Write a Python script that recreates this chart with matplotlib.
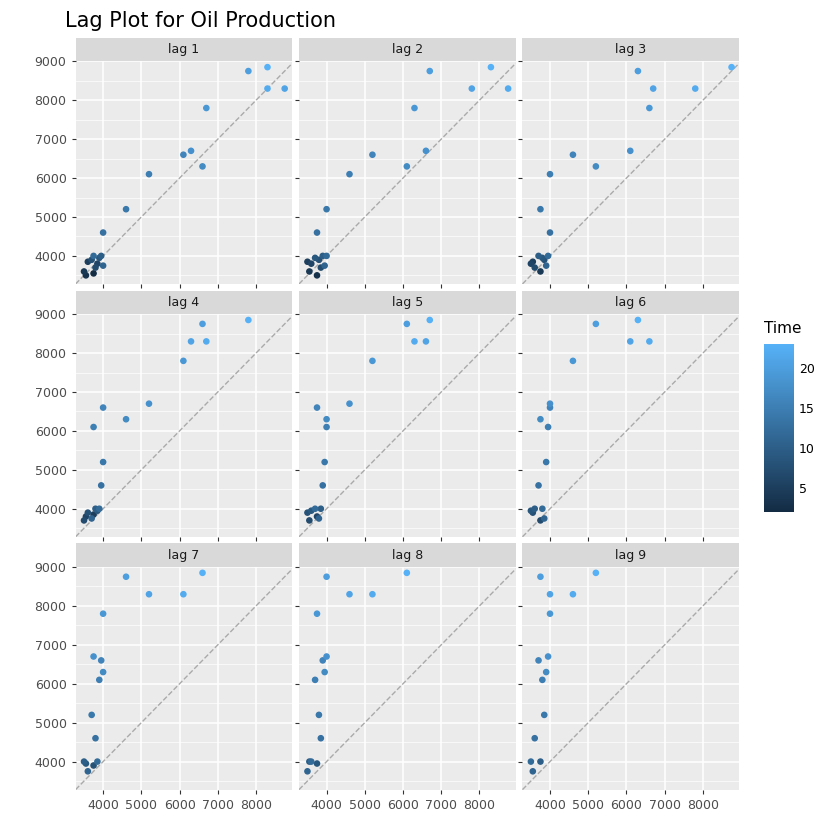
import numpy as np
import matplotlib
matplotlib.use("Agg")
import matplotlib.pyplot as plt
from matplotlib.colors import LinearSegmentedColormap, Normalize

# oil production series
oil = [3750, 3550, 3500, 3600, 3850, 3800, 3700, 3900, 3950, 4000, 3750, 4000,
       4600, 5200, 6100, 6600, 6300, 6700, 7800, 8750, 8300, 8300, 8850]
lags = list(range(1, 10))

cmap = LinearSegmentedColormap.from_list("gg", ["#132B43", "#56B1F7"])
norm = Normalize(vmin=2, vmax=len(oil))
lo, hi = 3280, 8950
yticks = [4000, 5000, 6000, 7000, 8000, 9000]
xticks = [4000, 5000, 6000, 7000, 8000]

fig = plt.figure(figsize=(8.4, 8.4), dpi=100)
fig.text(0.077, 0.968, "Lag Plot for Oil Production", fontsize=15)
left, right, top, bottom = 0.09, 0.88, 0.955, 0.06
gap = 0.008
strip = 0.028
pw = (right - left - 2 * gap) / 3
ph = (top - bottom - 2 * gap) / 3
y = np.array(oil)
for i, k in enumerate(lags):
    r, c = divmod(i, 3)
    x0 = left + c * (pw + gap)
    y0 = top - (r + 1) * ph - r * gap
    ax = fig.add_axes([x0, y0, pw, ph - strip])
    sax = fig.add_axes([x0, y0 + ph - strip, pw, strip])
    sax.set_facecolor("#D9D9D9")
    sax.set_xticks([]); sax.set_yticks([])
    for s in sax.spines.values():
        s.set_visible(False)
    sax.text(0.5, 0.5, f"lag {k}", ha="center", va="center", fontsize=9, color="#1A1A1A")
    ax.set_facecolor("#EBEBEB")
    ax.set_xlim(lo, hi); ax.set_ylim(lo, hi)
    ax.set_xticks(xticks); ax.set_yticks(yticks)
    ax.set_xticks(np.arange(3500, 9000, 500)[1::2], minor=True)
    ax.set_yticks(np.arange(3500, 9000, 1000), minor=True)
    ax.grid(True, which="major", color="white", lw=1.1)
    ax.grid(True, which="minor", color="white", lw=0.5)
    ax.set_axisbelow(True)
    for s in ax.spines.values():
        s.set_visible(False)
    ax.tick_params(which="both", length=3, color="#333333", labelsize=9, labelcolor="#4D4D4D")
    ax.tick_params(which="minor", length=0)
    if c != 0:
        ax.set_yticklabels([])
    if r != 2:
        ax.set_xticklabels([])
    ax.plot([lo, hi], [lo, hi], ls="--", color="#AAAAAA", lw=1)
    t = np.arange(k + 1, len(oil) + 1)
    ax.scatter(y[:-k], y[k:], c=t, cmap=cmap, norm=norm, s=14, zorder=3)

cax = fig.add_axes([0.91, 0.39, 0.035, 0.2])
cb = fig.colorbar(plt.cm.ScalarMappable(norm=norm, cmap=cmap), cax=cax)
cb.set_ticks([5, 10, 15, 20])
cb.outline.set_visible(False)
cb.ax.tick_params(labelsize=9, length=0)
cax.set_title("Time", fontsize=11, loc="left", pad=8)
fig.savefig("out.png", dpi=100)
